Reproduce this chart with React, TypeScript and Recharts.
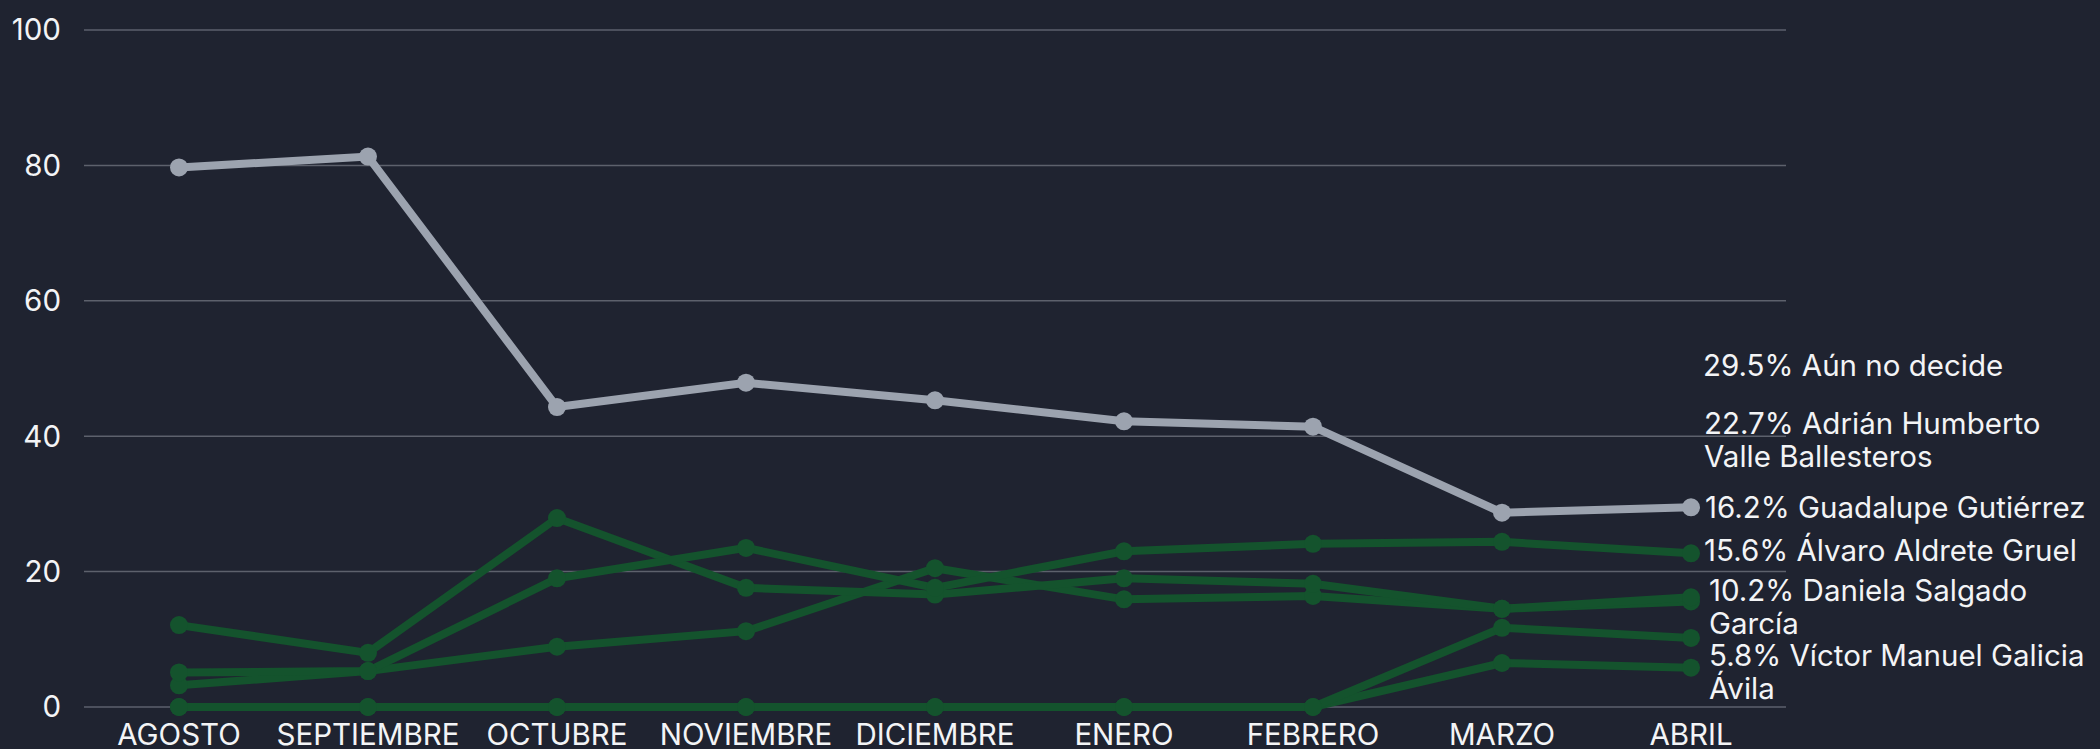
import React from "react";
import { LineChart, Line, XAxis, YAxis, CartesianGrid, LabelList } from "recharts";

const months = ["AGOSTO", "SEPTIEMBRE", "OCTUBRE", "NOVIEMBRE", "DICIEMBRE", "ENERO", "FEBRERO", "MARZO", "ABRIL"];
const aunNoDecide = [79.7, 81.3, 44.3, 47.9, 45.3, 42.2, 41.4, 28.7, 29.5];
const adrian = [5.1, 5.3, 19.0, 23.5, 17.6, 23.0, 24.1, 24.4, 22.7];
const guadalupe = [12.1, 8.0, 27.9, 17.6, 16.6, 19.0, 18.2, 14.5, 16.2];
const alvaro = [3.2, 5.3, 8.9, 11.2, 20.5, 15.9, 16.4, 14.5, 15.6];
const daniela = [0, 0, 0, 0, 0, 0, 0, 11.7, 10.2];
const victor = [0, 0, 0, 0, 0, 0, 0, 6.5, 5.8];
const yTicks = [0, 20, 40, 60, 80, 100];
const endLabels = [
  ["29.5% Aún no decide"],
  ["22.7% Adrián Humberto", "Valle Ballesteros"],
  ["16.2% Guadalupe Gutiérrez"],
  ["15.6% Álvaro Aldrete Gruel"],
  ["10.2% Daniela Salgado", "García"],
  ["5.8% Víctor Manuel Galicia", "Ávila"],
];

const data = months.map((m, i) => ({
  month: m,
  aun: aunNoDecide[i],
  adrian: adrian[i],
  guadalupe: guadalupe[i],
  alvaro: alvaro[i],
  daniela: daniela[i],
  victor: victor[i],
}));

const BG = "#1f2330";
const GRAY = "#9ca3af";
const GREEN = "#14532d";
const TEXT = "#f3f4f6";
const FONT = "Inter, 'Noto Sans', sans-serif";
const FS = 29.5;
const LINE_H = 32.5;
const LABEL_DY = [-131, -73, 11, 54, 94, 159];
const LABEL_DX = [12, 13, 14, 13, 18, 18];

const greenKeys = ["victor", "daniela", "alvaro", "guadalupe", "adrian"];

function EndLabels(props: any) {
  const { x, y, index } = props;
  if (index !== months.length - 1) return null;
  return (
    <g>
      {endLabels.map((lines, i) => (
        <text key={i} x={x + LABEL_DX[i]} y={y + LABEL_DY[i]} fill={TEXT} fontSize={FS} fontFamily={FONT}>
          {lines.map((ln, j) => (
            <tspan key={j} x={x + LABEL_DX[i]} dy={j === 0 ? 0 : LINE_H}>
              {ln}
            </tspan>
          ))}
        </text>
      ))}
    </g>
  );
}

export default function App() {
  return (
    <div style={{ position: "fixed", left: 0, top: 0, width: 2100, height: 749, background: BG, fontFamily: FONT }}>
      <LineChart width={2100} height={749} data={data} margin={{ top: 30, right: 314, bottom: 0, left: 0 }}>
        <CartesianGrid vertical={false} stroke="#5d616c" strokeWidth={1.5} />
        <XAxis
          dataKey="month"
          height={42}
          interval={0}
          padding={{ left: 95, right: 95 }}
          tickLine={false}
          axisLine={false}
          tickMargin={11}
          tick={{ fill: TEXT, fontSize: FS, fontFamily: FONT }}
        />
        <YAxis
          width={84}
          domain={[0, 100]}
          ticks={yTicks}
          tickLine={false}
          axisLine={false}
          tickMargin={17}
          tick={{ fill: TEXT, fontSize: FS, fontFamily: FONT }}
        />
        {greenKeys.map((k) => (
          <Line
            key={k}
            type="linear"
            dataKey={k}
            stroke={GREEN}
            strokeWidth={8}
            dot={{ r: 9, fill: GREEN, stroke: GREEN, strokeWidth: 0 }}
            activeDot={false}
            isAnimationActive={false}
          />
        ))}
        <Line
          type="linear"
          dataKey="aun"
          stroke={GRAY}
          strokeWidth={8}
          dot={{ r: 9, fill: GRAY, stroke: GRAY, strokeWidth: 0 }}
          activeDot={false}
          isAnimationActive={false}
        >
          <LabelList dataKey="aun" content={EndLabels} />
        </Line>
      </LineChart>
    </div>
  );
}
